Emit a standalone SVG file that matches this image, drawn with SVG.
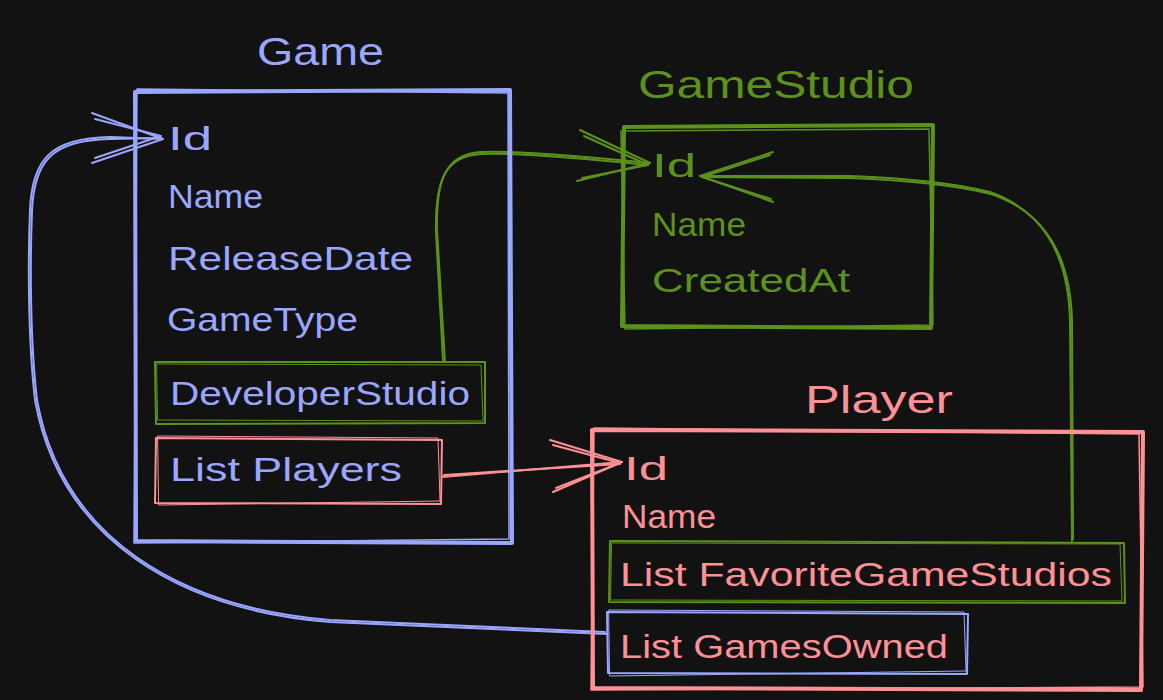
<svg xmlns="http://www.w3.org/2000/svg" width="1163" height="700" viewBox="0 0 1163 700">
<style>
.bg{fill:#121212}
.box{fill:none;stroke-linecap:round;stroke-linejoin:round}
.blue{stroke:#9aa6ff}
.green{stroke:#5c911b}
.red{stroke:#ff9095}
.t{font-family:"Liberation Sans",Arial,sans-serif;font-size:33px}
.title{font-family:"Liberation Sans",Arial,sans-serif;font-size:39px}
.tb{fill:#9aa6ff}
.tg{fill:#5c911b}
.tr{fill:#ff9095}
.conn{fill:none;stroke-width:2;stroke-linecap:round;stroke-linejoin:round}
</style>
<rect class="bg" x="0" y="0" width="1163" height="700"/>

<g id="connectors">
  <!-- GamesOwned -> Game.Id -->
  <path class="conn blue" d="M607,634 L330,622 C180,610 60,540 35,400 C28,340 28,260 30,210 C32,160 50,138 110,137 L163,139"/>
  <path class="conn blue" d="M605,632 L330,620 C181,608 62,539 37,400 C30,340 30,261 32,211 C34,162 51,140 110,139 L161,138" stroke-width="1"/>
  <path class="conn blue" d="M92,113 L163,139 L92,163"/>
  <path class="conn blue" d="M95,119 L161,136 L95,158" stroke-width="1"/>
  <!-- DeveloperStudio -> GameStudio.Id -->
  <path class="conn green" d="M445,362 L437,230 C436,180 445,155 480,152 C520,150 600,158 650,163"/>
  <path class="conn green" d="M443,360 L436,232 C435,182 444,156 481,154 C521,152 600,160 648,165" stroke-width="1"/>
  <path class="conn green" d="M580,130 L650,163 L577,181"/>
  <path class="conn green" d="M584,136 L648,165 L582,178" stroke-width="1"/>
  <!-- FavoriteGameStudios -> GameStudio.Id -->
  <path class="conn green" d="M1072,541 L1070,320 C1068,250 1040,210 990,192 C950,182 900,178 850,176 L700,176"/>
  <path class="conn green" d="M1073,539 L1072,320 C1070,251 1042,211 991,194 C951,184 900,180 850,178 L702,177" stroke-width="1"/>
  <path class="conn green" d="M773,152 L700,176 L773,202"/>
  <path class="conn green" d="M770,155 L702,177 L771,199" stroke-width="1"/>
  <!-- List Players -> Player.Id -->
  <path class="conn red" d="M442,477 L622,462"/>
  <path class="conn red" d="M444,475 L620,464" stroke-width="1"/>
  <path class="conn red" d="M550,440 L622,462 L553,492"/>
  <path class="conn red" d="M553,445 L620,463 L556,488" stroke-width="1"/>
</g>

<g id="game">
  <text class="title tb" x="257" y="65" textLength="127" lengthAdjust="spacingAndGlyphs">Game</text>
  <path class="box blue" stroke-width="4" d="M135,92 L510,90 L512,543 L136,541 Z"/>
  <path class="box blue" stroke-width="1.5" d="M137,89 L508,93 L509,539 L134,543 Z"/>
  <text class="t tb" x="168" y="150" textLength="44" lengthAdjust="spacingAndGlyphs">Id</text>
  <text class="t tb" x="168" y="208" textLength="95" lengthAdjust="spacingAndGlyphs">Name</text>
  <text class="t tb" x="168" y="270" textLength="245" lengthAdjust="spacingAndGlyphs">ReleaseDate</text>
  <text class="t tb" x="167" y="331" textLength="191" lengthAdjust="spacingAndGlyphs">GameType</text>
</g>

<g id="developerStudio">
  <path class="box green" stroke-width="2" d="M155,362 L485,362 L485,423 L156,424 Z"/>
  <path class="box green" stroke-width="1" d="M157,364 L481,365 L483,421 L158,420 Z"/>
  <text class="t tb" x="170" y="405" textLength="300" lengthAdjust="spacingAndGlyphs">DeveloperStudio</text>
</g>

<g id="listPlayers">
  <path class="box red" stroke-width="2" d="M156,438 L442,440 L441,504 L155,503 Z"/>
  <path class="box red" stroke-width="1" d="M158,436 L438,438 L440,501 L159,505 Z"/>
  <text class="t tb" x="170" y="481" textLength="232" lengthAdjust="spacingAndGlyphs">List Players</text>
</g>

<g id="gameStudio">
  <text class="title tg" x="638" y="98" textLength="276" lengthAdjust="spacingAndGlyphs">GameStudio</text>
  <path class="box green" stroke-width="4" d="M624,127 L933,125 L931,328 L622,326 Z"/>
  <path class="box green" stroke-width="1.5" d="M621,131 L929,129 L933,325 L625,329 Z"/>
  <text class="t tg" x="652" y="177" textLength="44" lengthAdjust="spacingAndGlyphs">Id</text>
  <text class="t tg" x="652" y="236" textLength="94" lengthAdjust="spacingAndGlyphs">Name</text>
  <text class="t tg" x="652" y="292" textLength="198" lengthAdjust="spacingAndGlyphs">CreatedAt</text>
</g>

<g id="player">
  <text class="title tr" x="805" y="413" textLength="148" lengthAdjust="spacingAndGlyphs">Player</text>
  <path class="box red" stroke-width="4" d="M592,430 L1143,432 L1141,690 L593,688 Z"/>
  <path class="box red" stroke-width="1.5" d="M594,428 L1139,434 L1143,687 L591,690 Z"/>
  <text class="t tr" x="624" y="480" textLength="44" lengthAdjust="spacingAndGlyphs">Id</text>
  <text class="t tr" x="622" y="528" textLength="94" lengthAdjust="spacingAndGlyphs">Name</text>
</g>

<g id="favoriteGameStudios">
  <path class="box green" stroke-width="2" d="M610,541 L1124,543 L1125,603 L609,602 Z"/>
  <path class="box green" stroke-width="1" d="M612,543 L1120,544 L1122,601 L611,600 Z"/>
  <text class="t tr" x="620" y="586" textLength="492" lengthAdjust="spacingAndGlyphs">List FavoriteGameStudios</text>
</g>

<g id="gamesOwned">
  <path class="box blue" stroke-width="2" d="M607,612 L968,614 L967,674 L608,673 Z"/>
  <path class="box blue" stroke-width="1" d="M609,610 L964,612 L966,671 L610,676 Z"/>
  <text class="t tr" x="620" y="658" textLength="328" lengthAdjust="spacingAndGlyphs">List GamesOwned</text>
</g>
</svg>
